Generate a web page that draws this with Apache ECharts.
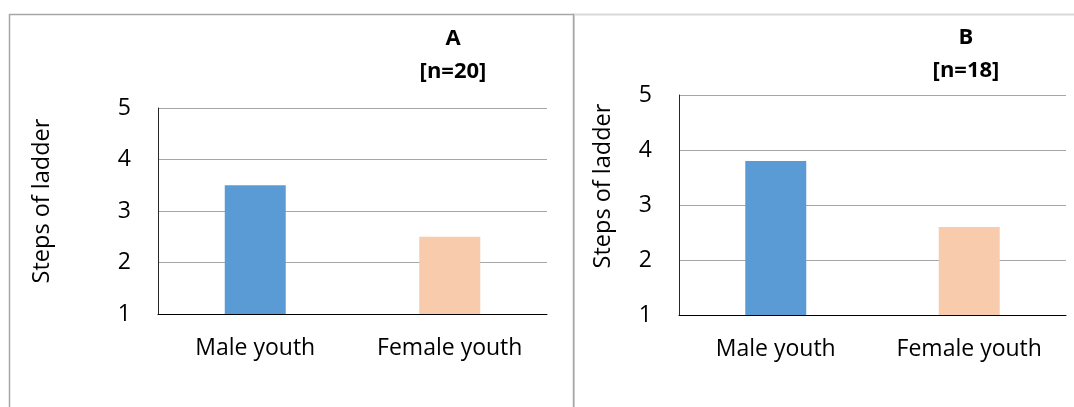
<!DOCTYPE html>
<html>
<head>
<meta charset="utf-8">
<script src="https://cdn.jsdelivr.net/npm/echarts@6/dist/echarts.min.js"></script>
<style>
  html, body { margin: 0; padding: 0; background: #fff; }
  #chart { width: 1074px; height: 407px; }
</style>
</head>
<body>
<div id="chart"></div>
<script>
// Ladder-step scores for youth, two groups
const categories = ['Male youth', 'Female youth'];
const valuesA = [3.5, 2.5];
const valuesB = [3.8, 2.6];
const panelTitles = ['A', 'B'];
const panelCounts = ['[n=20]', '[n=18]'];
const yAxisTitle = 'Steps of ladder';
const yMin = 1, yMax = 5, yStep = 1;

const barColors = ['#5b9bd5', '#f8cbad'];
const FONT = '"Open Sans", "Noto Sans", sans-serif';

const chart = echarts.init(document.getElementById('chart'), null, { renderer: 'canvas' });

function barData(values) {
  return values.map((v, i) => ({ value: v, itemStyle: { color: barColors[i] } }));
}

function xAxisFor(gridIndex) {
  return {
    type: 'category', gridIndex, data: categories,
    axisLine: { show: true, lineStyle: { color: '#000', width: 1 } },
    axisTick: { show: false },
    axisLabel: { color: '#000', fontFamily: FONT, fontSize: 23, margin: 23 }
  };
}
function yAxisFor(gridIndex) {
  return {
    type: 'value', gridIndex, min: yMin, max: yMax, interval: yStep,
    axisLine: { show: true, lineStyle: { color: '#262626', width: 1 } },
    axisTick: { show: false },
    splitLine: { show: true, lineStyle: { color: '#a6a6a6', width: 1 } },
    axisLabel: { color: '#000', fontFamily: FONT, fontSize: 23, margin: 27 }
  };
}

const titleStyle = { fontFamily: FONT, fontSize: 22, fontWeight: 'bold', fill: '#000', align: 'center', verticalAlign: 'middle' };
const axisTitleStyle = { fontFamily: FONT, fontSize: 23.5, fill: '#000', align: 'center', verticalAlign: 'middle' };

chart.setOption({
  backgroundColor: '#fff',
  animation: false,
  grid: [
    { left: 158, right: 527, top: 108, bottom: 93 },
    { left: 679, right: 8, top: 95, bottom: 92 }
  ],
  xAxis: [xAxisFor(0), xAxisFor(1)],
  yAxis: [yAxisFor(0), yAxisFor(1)],
  series: [
    { type: 'bar', xAxisIndex: 0, yAxisIndex: 0, barWidth: 61, data: barData(valuesA) },
    { type: 'bar', xAxisIndex: 1, yAxisIndex: 1, barWidth: 61, data: barData(valuesB) }
  ],
  graphic: [
    // panel frames
    { type: 'rect', z: -1, shape: { x: 9.5, y: 14.5, width: 564, height: 420 },
      style: { fill: 'none', stroke: '#a6a6a6', lineWidth: 1.5 } },
    { type: 'rect', z: -2, shape: { x: 574, y: 14.5, width: 520, height: 420 },
      style: { fill: 'none', stroke: '#d9d9d9', lineWidth: 2 } },
    // panel headings
    { type: 'text', x: 453, y: 39, style: Object.assign({ text: panelTitles[0] }, titleStyle) },
    { type: 'text', x: 453, y: 72, style: Object.assign({ text: panelCounts[0] }, titleStyle) },
    { type: 'text', x: 966, y: 38, style: Object.assign({ text: panelTitles[1] }, titleStyle) },
    { type: 'text', x: 966, y: 71, style: Object.assign({ text: panelCounts[1] }, titleStyle) },
    // y-axis titles
    { type: 'text', x: 42, y: 201, rotation: Math.PI / 2, style: Object.assign({ text: yAxisTitle }, axisTitleStyle) },
    { type: 'text', x: 603, y: 186, rotation: Math.PI / 2, style: Object.assign({ text: yAxisTitle }, axisTitleStyle) }
  ]
});
</script>
</body>
</html>
